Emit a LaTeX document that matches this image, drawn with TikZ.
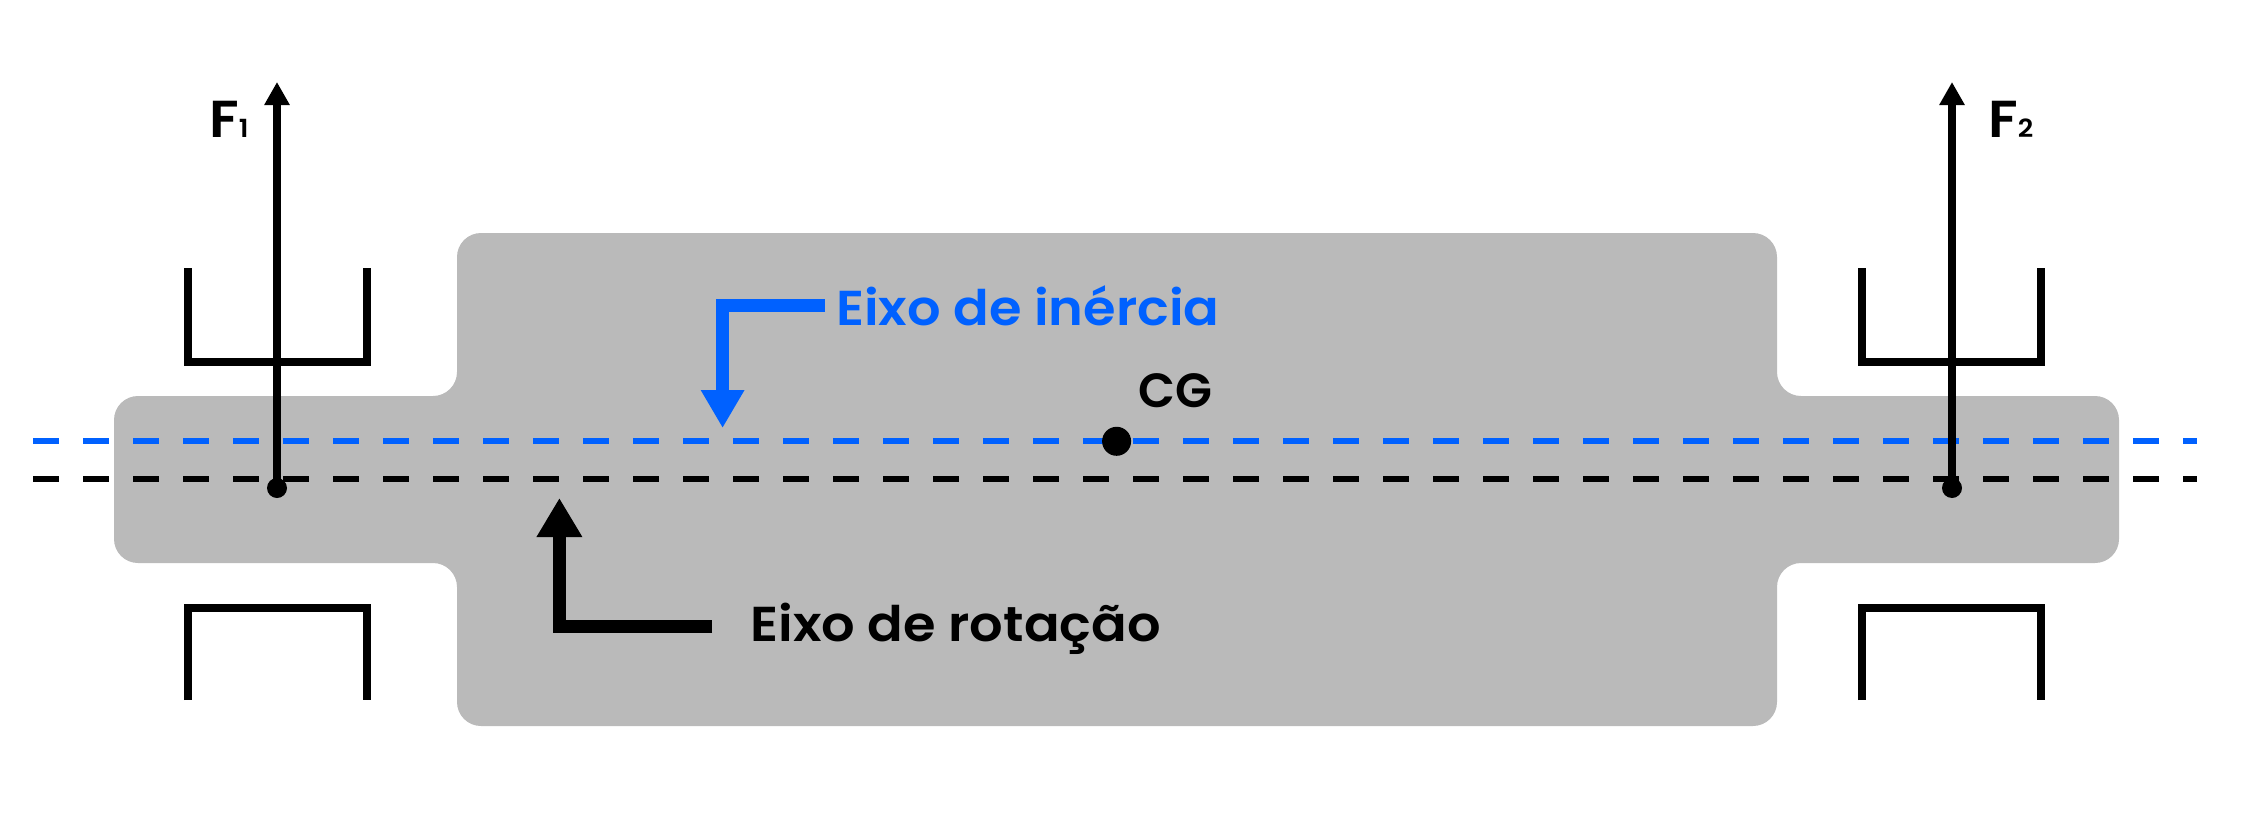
\documentclass[tikz,border=0pt]{standalone}
\usepackage{fontspec}
\setmainfont{Poppins}
\newfontfamily\widefont[FakeStretch=1.065,BoldFont={Poppins SemiBold},BoldFeatures={FakeStretch=1.075}]{Poppins}
\newfontfamily\semifont[BoldFont={Poppins SemiBold}]{Poppins}
\usetikzlibrary{arrows.meta}
\definecolor{shaftgray}{HTML}{BABABA}
\definecolor{axisblue}{HTML}{0061FF}
\tikzset{
  dashaxis/.style={line width=6pt,dash pattern=on 26pt off 24pt},
  bearing/.style={line width=8pt,line cap=butt,line join=miter,draw=black},
  forcearrow/.style={line width=8pt,-{Triangle[length=23pt,width=24pt]}},
  callout/.style={line width=13pt,line join=miter},
  dotnode/.style={circle,fill=black,inner sep=0pt,minimum size=#1},
  lbl/.style={inner sep=0pt,anchor=base west,font=\semifont\fontsize{48}{48}\selectfont\bfseries},
  widelbl/.style={inner sep=0pt,anchor=base west,font=\widefont\fontsize{49}{49}\selectfont\bfseries},
}
\begin{document}
\begin{tikzpicture}[x=1pt,y=-1pt]
\useasboundingbox (0,0) rectangle (2251,838);
% rotor
\fill[shaftgray,rounded corners=24pt]
  (114,396) -- (457,396) -- (457,233) -- (1777,233) -- (1777,396) -- (2119,396)
  -- (2119,563) -- (1777,563) -- (1777,726) -- (457,726) -- (457,563) -- (114,563) -- cycle;
% axes
\coordinate (bluel) at (33,441.3);
\coordinate (bluer) at (2197,441.3);
\coordinate (blackl) at (33,479);
\coordinate (blackr) at (2197,479);
\draw[dashaxis,draw=axisblue] (bluel) -- (bluer);
\draw[dashaxis,draw=black] (blackl) -- (blackr);
% bearings
\draw[bearing] (188,268) -- (188,361.5) -- (367,361.5) -- (367,268);
\draw[bearing] (188,700) -- (188,608) -- (367,608) -- (367,700);
\draw[bearing] (1862,268) -- (1862,361.5) -- (2041,361.5) -- (2041,268);
\draw[bearing] (1862,700) -- (1862,608) -- (2041,608) -- (2041,700);
% forces
\node[dotnode=20pt] (p1) at (277,488) {};
\node[dotnode=20pt] (p2) at (1952,488) {};
\coordinate (t1) at (277,82);
\coordinate (t2) at (1952,82);
\draw[forcearrow] (p1.center) -- (t1);
\draw[forcearrow] (p2.center) -- (t2);
\node[widelbl] (f1) at (209,137) {\fontsize{52}{52}\selectfont F\fontsize{25}{25}\selectfont 1};
\node[widelbl] (f2) at (1988,137) {\fontsize{52}{52}\selectfont F\fontsize{25}{25}\selectfont 2};
% CG
\node[dotnode=29pt] (cg) at (1116.6,441.3) {};
\node[lbl] (cgl) at (1138,407) {CG};
% callouts
\node[widelbl,text=axisblue] (ei) at (836,325) {Eixo de inércia};
\node[widelbl,text=black] (er) at (750.5,641) {Eixo de rotação};
\coordinate (eistart) at (825,305);
\coordinate (eitip) at (722.6,428);
\coordinate (erstart) at (712,626);
\coordinate (ertip) at (559.4,498);
\draw[callout,draw=axisblue,-{Triangle[length=38pt,width=41pt]}] (eistart) -| (eitip);
\draw[callout,draw=black,-{Triangle[length=39pt,width=43pt]}] (erstart) -| (ertip);
\end{tikzpicture}
\end{document}
